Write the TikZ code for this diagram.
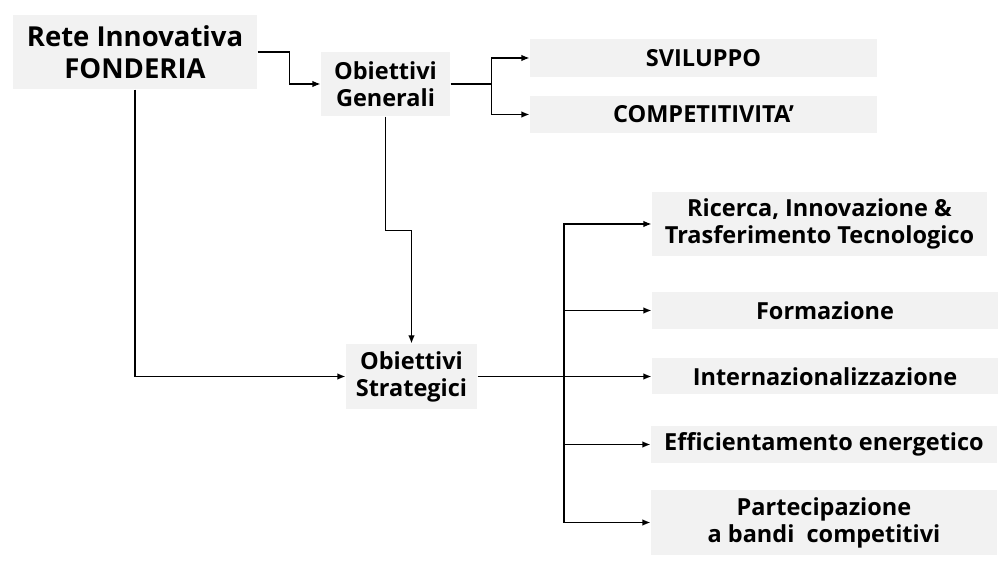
\documentclass[tikz,border=0pt]{standalone}
\usepackage{fontspec}
\setmainfont{Open Sans}
\usepackage{xcolor}
\usetikzlibrary{arrows.meta}
\definecolor{boxgray}{HTML}{F2F2F2}

\begin{document}
\begin{tikzpicture}[x=1pt,y=-1pt,line width=1.2pt,>={Latex[length=8pt,width=6.5pt]},
  box/.style={fill=boxgray,align=center,inner sep=0pt,font=\bfseries\fontsize{23.5}{27}\selectfont}]

\useasboundingbox (0,0) rectangle (1005,561);

\node[box,minimum width=244,minimum height=74,font=\bfseries\fontsize{27.5}{32}\selectfont] (rete) at (135,52) {Rete Innovativa\\FONDERIA};
\node[box,minimum width=129,minimum height=64] (gen) at (385.5,84) {Obiettivi\\Generali};
\node[box,minimum width=131,minimum height=65] (strat) at (411.5,376.5) {Obiettivi\\Strategici};

\node[box,minimum width=347,minimum height=38] (svil) at (703.5,58) {SVILUPPO};
\node[box,minimum width=347,minimum height=37] (comp) at (703.5,114.5) {COMPETITIVITA’};

\node[box,minimum width=335,minimum height=64] (ric) at (819.5,224) {Ricerca, Innovazione \&\\Trasferimento Tecnologico};
\node[box,minimum width=346,minimum height=37] (form) at (825,310.5) {Formazione};
\node[box,minimum width=346,minimum height=36] (inter) at (825,376.5) {Internazionalizzazione};
\node[box,minimum width=346,minimum height=37] (eff) at (824,444.5) {Efficientamento energetico};
\node[box,minimum width=346,minimum height=65] (part) at (824,522.5) {Partecipazione\\a bandi\ \ competitivi};

% dalla rete
\draw[->] (rete.east) -- ++(32,0) |- (gen.west);
\draw[->] (rete.south) |- (strat.west);
\draw[->] (gen.south) -- ++(0,114) -| (strat.north);

% obiettivi generali
\draw (gen.east) -- ++(41,0) coordinate (g);
\draw[->] (g) |- (svil.west);
\draw[->] (g) |- (comp.west);

% obiettivi strategici
\draw[->] (strat.east) -- (inter.west);
\coordinate (s) at (564,376.5);
\draw[->] (s) |- (ric.west);
\draw[->] (s) |- (form.west);
\draw[->] (s) |- (eff.west);
\draw[->] (s) |- (part.west);

\end{tikzpicture}
\end{document}
